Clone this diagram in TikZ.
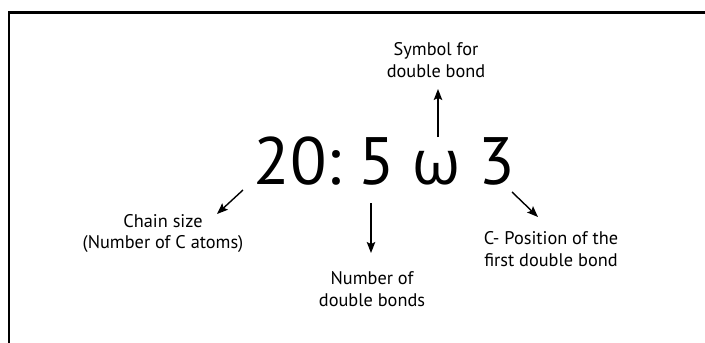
\documentclass[tikz,border=0pt]{standalone}
\usepackage{fontspec}
\setmainfont{PT Sans}
\newfontfamily\greekfont{Open Sans}
\usetikzlibrary{arrows.meta}
\tikzset{
  big/.style={inner sep=0pt, anchor=base, font=\fontsize{67}{70}\selectfont},
  lbl/.style={inner sep=0pt, anchor=base, align=center, font=\fontsize{18.3}{21.5}\selectfont},
  arr/.style={line width=1.4pt, -{Stealth[length=11pt,width=8.5pt,inset=2pt]}},
  frame/.style={line width=2.2pt}
}
\begin{document}
\begin{tikzpicture}[x=1pt,y=-1pt]
\useasboundingbox (0,0) rectangle (705,343);
\draw[frame] (705,12.5) -- (9,12.5) -- (9,343);
% formula
\node[big] (n20) at (297.5,184) {20:};
\node[big] (n5) at (377,184) {5};
\node[big] (nw) at (436.5,184) {\greekfont\fontsize{62}{70}\selectfont ω};
\node[big] (n3) at (497,184) {3};
% labels (anchor = baseline of last line)
\node[lbl] (sym) at (436,77) {Symbol for\\double bond};
\node[lbl] (chain) at (163,248.5) {Chain size\\(Number of C atoms)};
\node[lbl] (num) at (372,306) {Number of\\double bonds};
\node[lbl] (pos) at (551,266) {C- Position of the\\first double bond};
% arrow ends
\coordinate (s1) at (438,137);
\coordinate (e1) at (438,89);
\coordinate (s2) at (243,190);
\coordinate (e2) at (217,214);
\coordinate (s3) at (371,203);
\coordinate (e3) at (371,253);
\coordinate (s4) at (512,192);
\coordinate (e4) at (538,217);
\draw[arr] (s1) -- (e1);
\draw[arr] (s2) -- (e2);
\draw[arr] (s3) -- (e3);
\draw[arr] (s4) -- (e4);
\end{tikzpicture}
\end{document}
